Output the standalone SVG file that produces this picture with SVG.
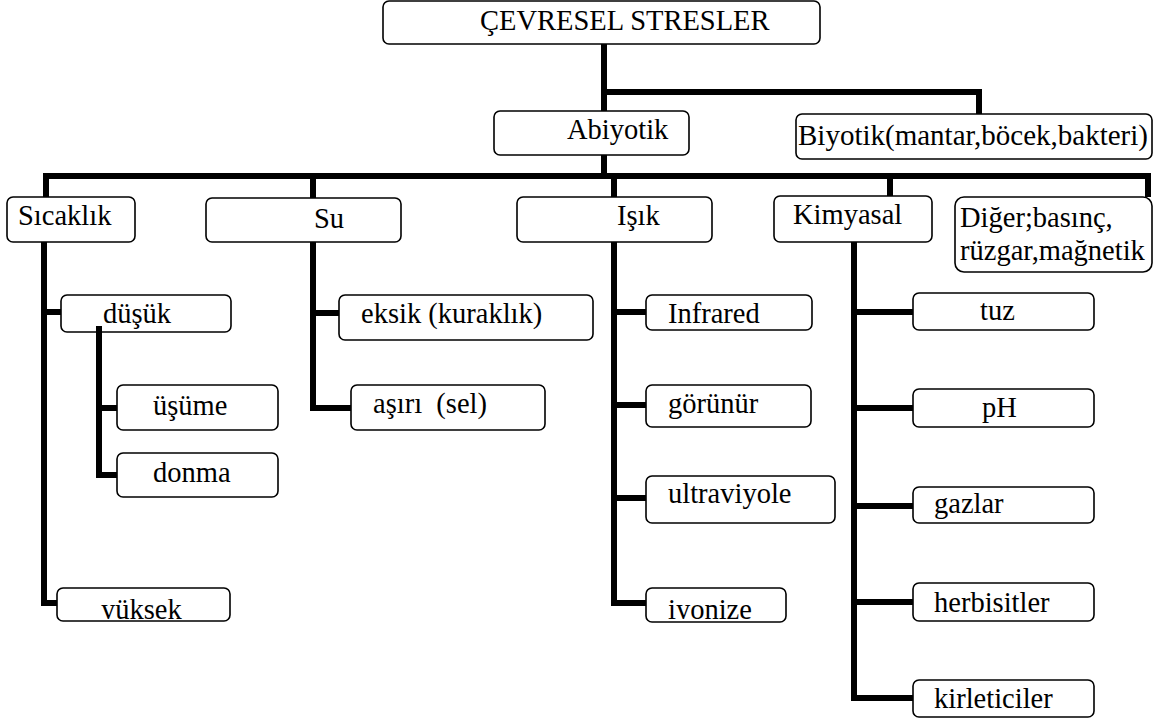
<svg xmlns="http://www.w3.org/2000/svg" width="1154" height="723" viewBox="0 0 1154 723" font-family="'Liberation Serif', 'Times New Roman', serif">
<defs>
<style>
.box{fill:#fff;stroke:#000;stroke-width:1.6}
.t{font-family:"Liberation Serif","Times New Roman",serif;font-size:28.5px;fill:#000;white-space:pre}
.c{fill:none;stroke:#000;stroke-width:6;stroke-linejoin:miter;stroke-linecap:butt}
</style>
<clipPath id="clipY"><rect x="57" y="588" width="173" height="31"/></clipPath>
<clipPath id="clipI"><rect x="646" y="588" width="140" height="31"/></clipPath>
</defs>
<rect width="1154" height="723" fill="#fff"/>
<g id="n-top"><rect class="box" x="383" y="1" width="437" height="43" rx="6"/><text class="t" x="480" y="30">ÇEVRESEL STRESLER</text></g>
<g id="n-abiyotik"><rect class="box" x="494" y="111" width="195" height="44" rx="6"/><text class="t" x="567" y="139">Abiyotik</text></g>
<g id="n-biyotik"><rect class="box" x="796" y="114" width="356" height="45" rx="6"/><text class="t" x="798" y="145" style="font-size:29px">Biyotik(mantar,böcek,bakteri)</text></g>
<g id="n-sicaklik"><rect class="box" x="7" y="197" width="128" height="45" rx="6"/><text class="t" x="18" y="225">Sıcaklık</text></g>
<g id="n-su"><rect class="box" x="206" y="198" width="195" height="44" rx="6"/><text class="t" x="314" y="228">Su</text></g>
<g id="n-isik"><rect class="box" x="517" y="197" width="195" height="45" rx="6"/><text class="t" x="617" y="225">Işık</text></g>
<g id="n-kimyasal"><rect class="box" x="774" y="196" width="158" height="46" rx="6"/><text class="t" x="793" y="224">Kimyasal</text></g>
<g id="n-diger"><rect class="box" x="955" y="197" width="197" height="75" rx="9"/><text class="t" x="960" y="227">Diğer;basınç,</text><text class="t" x="960" y="260">rüzgar,mağnetik</text></g>
<g id="n-dusuk"><rect class="box" x="61" y="295" width="170" height="37" rx="6"/><text class="t" x="103" y="323">düşük</text></g>
<g id="n-usume"><rect class="box" x="117" y="385" width="161" height="45" rx="6"/><text class="t" x="153" y="415">üşüme</text></g>
<g id="n-donma"><rect class="box" x="117" y="453" width="161" height="44" rx="6"/><text class="t" x="153" y="482">donma</text></g>
<g id="n-yuksek"><rect class="box" x="57" y="588" width="173" height="33" rx="6"/><text class="t" x="101" y="619" clip-path="url(#clipY)">yüksek</text></g>
<g id="n-eksik"><rect class="box" x="339" y="295" width="254" height="45" rx="6"/><text class="t" x="361" y="323">eksik (kuraklık)</text></g>
<g id="n-asiri"><rect class="box" x="351" y="385" width="194" height="45" rx="6"/><text class="t" x="373" y="413" xml:space="preserve">aşırı  (sel)</text></g>
<g id="n-infrared"><rect class="box" x="646" y="295" width="166" height="35" rx="6"/><text class="t" x="668" y="323">Infrared</text></g>
<g id="n-gorunur"><rect class="box" x="646" y="385" width="165" height="42" rx="6"/><text class="t" x="668" y="413">görünür</text></g>
<g id="n-ultraviyole"><rect class="box" x="646" y="476" width="189" height="47" rx="6"/><text class="t" x="668" y="503">ultraviyole</text></g>
<g id="n-iyonize"><rect class="box" x="646" y="588" width="140" height="34" rx="6"/><text class="t" x="668" y="619" clip-path="url(#clipI)">iyonize</text></g>
<g id="n-tuz"><rect class="box" x="913" y="293" width="181" height="37" rx="6"/><text class="t" x="980" y="320">tuz</text></g>
<g id="n-ph"><rect class="box" x="913" y="389" width="181" height="38" rx="6"/><text class="t" x="982" y="417">pH</text></g>
<g id="n-gazlar"><rect class="box" x="913" y="487" width="181" height="36" rx="6"/><text class="t" x="934" y="513">gazlar</text></g>
<g id="n-herbisitler"><rect class="box" x="913" y="583" width="181" height="38" rx="6"/><text class="t" x="934" y="612">herbisitler</text></g>
<g id="n-kirleticiler"><rect class="box" x="913" y="680" width="181" height="37" rx="6"/><text class="t" x="934" y="708">kirleticiler</text></g>
<g id="connectors">
<path class="c" d="M604 44 V111"/>
<path class="c" d="M604 92 H979 V114"/>
<path class="c" d="M604 155 V176"/>
<path class="c" d="M46 197 V176 H1148 V197"/>
<path class="c" d="M313 176 V198"/>
<path class="c" d="M614 176 V197"/>
<path class="c" d="M890 176 V196"/>
<path class="c" d="M44 242 V603 H57"/>
<path class="c" d="M44 312 H61"/>
<path class="c" d="M99 326 V475 H117"/>
<path class="c" d="M99 408 H117"/>
<path class="c" d="M313 242 V408 H351"/>
<path class="c" d="M313 313 H339"/>
<path class="c" d="M614 242 V603 H646"/>
<path class="c" d="M614 312 H646"/>
<path class="c" d="M614 405 H646"/>
<path class="c" d="M614 498 H646"/>
<path class="c" d="M854 242 V698 H913"/>
<path class="c" d="M854 312 H913"/>
<path class="c" d="M854 408 H913"/>
<path class="c" d="M854 506 H913"/>
<path class="c" d="M854 602 H913"/>
</g>
</svg>
